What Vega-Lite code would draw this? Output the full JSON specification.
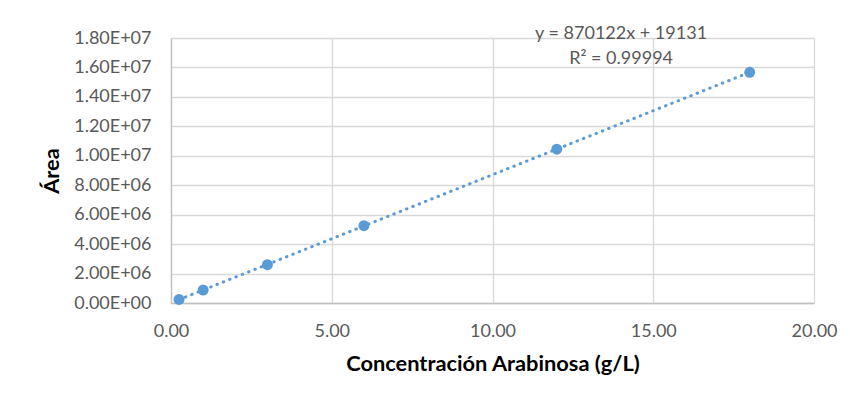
{
  "$schema": "https://vega.github.io/schema/vega-lite/v6.json",
  "autosize": {"type": "none"},
  "padding": {"left": 171, "top": 38, "right": 36, "bottom": 96},
  "width": 643,
  "height": 265,
  "background": "white",
  "config": {
    "view": {"stroke": null},
    "font": "Lato",
    "axis": {
      "labelFont": "Lato",
      "labelFontSize": 18,
      "labelColor": "#595959",
      "labelOverlap": false,
      "labelFlush": false,
      "titleFont": "Lato",
      "titleFontSize": 21.8,
      "titleFontWeight": "bold",
      "titleColor": "#000000",
      "gridColor": "#d9d9d9",
      "gridWidth": 1.3,
      "domainColor": "#bfbfbf",
      "domainWidth": 1.3,
      "ticks": false
    }
  },
  "datasets": {
    "points": [
      {"conc": 0.25, "area": 240000},
      {"conc": 1, "area": 880000},
      {"conc": 3, "area": 2600000},
      {"conc": 6, "area": 5250000},
      {"conc": 12, "area": 10450000},
      {"conc": 18, "area": 15670000}
    ],
    "labels": [
      {"conc": 14.0, "area": 18250000, "text": "y = 870122x + 19131"},
      {"conc": 14.0, "area": 16600000, "text": "R² = 0.99994"}
    ]
  },
  "encoding": {
    "x": {
      "field": "conc", "type": "quantitative",
      "scale": {"domain": [0, 20], "nice": false, "zero": false},
      "axis": {
        "values": [0, 5, 10, 15, 20],
        "tickCount": 20,
        "format": ".2f",
        "grid": true,
        "labelPadding": 19,
        "title": "Concentración Arabinosa (g/L)",
        "titlePadding": 13
      }
    },
    "y": {
      "field": "area", "type": "quantitative",
      "scale": {"domain": [0, 18000000], "nice": false},
      "axis": {
        "values": [0, 2000000, 4000000, 6000000, 8000000, 10000000, 12000000, 14000000, 16000000, 18000000],
        "tickCount": 20,
        "labelExpr": "datum.value == 0 ? '0.00E+00' : (datum.value >= 10000000 ? format(datum.value / 10000000, '.2f') + 'E+07' : format(datum.value / 1000000, '.2f') + 'E+06')",
        "grid": true,
        "labelPadding": 20,
        "title": "Área",
        "titlePadding": 10
      }
    }
  },
  "layer": [
    {
      "data": {"name": "points"},
      "transform": [{"regression": "area", "on": "conc"}],
      "mark": {"type": "line", "color": "#5b9bd5", "strokeWidth": 3, "strokeCap": "round", "strokeDash": [0.5, 6.3]}
    },
    {
      "data": {"name": "points"},
      "mark": {"type": "circle", "color": "#5b9bd5", "size": 120, "opacity": 1}
    },
    {
      "data": {"name": "labels"},
      "mark": {"type": "text", "fontSize": 18, "color": "#595959", "font": "Lato", "align": "center", "baseline": "middle"},
      "encoding": {
        "text": {"field": "text"}
      }
    }
  ]
}
